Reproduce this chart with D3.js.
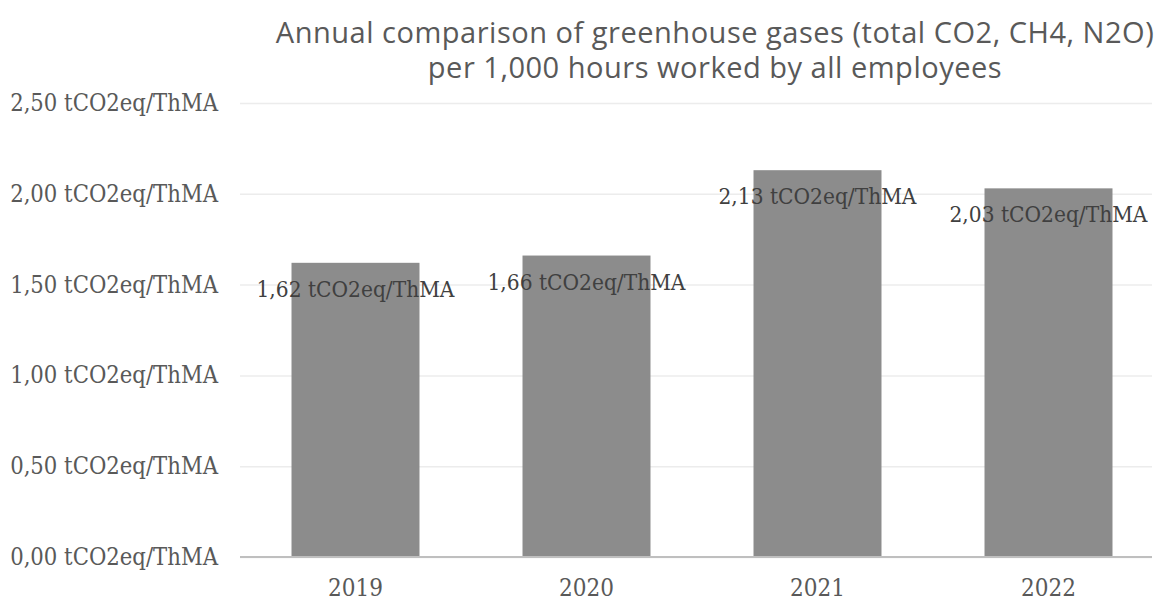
<!DOCTYPE html>
<html><head><meta charset="utf-8">
<script src="https://cdn.jsdelivr.net/npm/d3@7"></script>
<style>body{margin:0;background:#fff}</style>
</head><body>
<svg id="c" width="1167" height="600"></svg>
<script>
const categories = ["2019", "2020", "2021", "2022"];
const values = [1.62, 1.66, 2.13, 2.03];
const yTicks = [0, 0.5, 1.0, 1.5, 2.0, 2.5];
const titleLines = ["Annual comparison of greenhouse gases (total CO2, CH4, N2O)", "per 1,000 hours worked by all employees"];
const unit = " tCO2eq/ThMA";
const fmt = v => d3.format(".2f")(v).replace(".", ",") + unit;

const svg = d3.select("#c");
const m = {left: 240, right: 3, top: 103, bottom: 43};
const W = 1167, H = 600;
const x = d3.scaleBand().domain(categories).range([m.left, W - m.right]).paddingInner(0.446).paddingOuter(0.223);
const y = d3.scaleLinear().domain([0, 2.5]).range([H - m.bottom, m.top]);
const serif = "'DejaVu Serif Condensed', 'Liberation Serif', serif";

function fit(sel, target) {
  sel.each(function(){
    const len = this.getComputedTextLength();
    const fs = parseFloat(d3.select(this).attr("font-size"));
    d3.select(this).attr("font-size", fs * target / len);
  });
}

// gridlines
const yAxis = d3.axisLeft(y).tickValues(yTicks).tickSize(-(W - m.left - m.right - 12)).tickFormat(fmt).tickPadding(22);
const ga = svg.append("g").attr("transform", `translate(${m.left},0)`).call(yAxis);
ga.select(".domain").remove();
ga.selectAll(".tick line").attr("stroke", "#ececec").attr("stroke-width", 1.5);
ga.selectAll(".tick text").attr("fill", "#595959").attr("font-family", serif).attr("font-size", 18).call(fit, 208);

// bars
svg.append("g").selectAll("rect").data(values).join("rect")
  .attr("x", (d, i) => x(categories[i]))
  .attr("width", x.bandwidth())
  .attr("y", d => y(d))
  .attr("height", d => y(0) - y(d))
  .attr("fill", "#8c8c8c");

// baseline
svg.append("line").attr("x1", m.left).attr("x2", W - m.right - 12).attr("y1", y(0)).attr("y2", y(0))
  .attr("stroke", "#bfbfbf").attr("stroke-width", 2);

// x axis
const xAxis = d3.axisBottom(x).tickSize(0).tickPadding(22);
const gx = svg.append("g").attr("transform", `translate(0,${y(0)})`).call(xAxis);
gx.select(".domain").remove();
gx.selectAll(".tick text").attr("fill", "#595959").attr("font-family", serif).attr("font-size", 18).call(fit, 55);

// value labels
svg.append("g").selectAll("text").data(values).join("text")
  .attr("x", (d, i) => x(categories[i]) + x.bandwidth() / 2)
  .attr("y", d => y(d) + 34)
  .attr("text-anchor", "middle")
  .attr("fill", "#404040")
  .attr("font-family", serif)
  .attr("font-size", 18)
  .text(d => fmt(d))
  .call(fit, 198);

// title
const tt = svg.append("g").selectAll("text").data(titleLines).join("text")
  .attr("x", 715)
  .attr("y", (d, i) => 43 + i * 35)
  .attr("text-anchor", "middle")
  .attr("fill", "#595959")
  .attr("font-family", "'Open Sans', sans-serif")
  .attr("font-size", 24)
  .attr("letter-spacing", 0.5)
  .text(d => d);
const first = tt.filter((d, i) => i === 0);
first.call(fit, 885);
tt.attr("font-size", first.attr("font-size"));
</script>
</body></html>
